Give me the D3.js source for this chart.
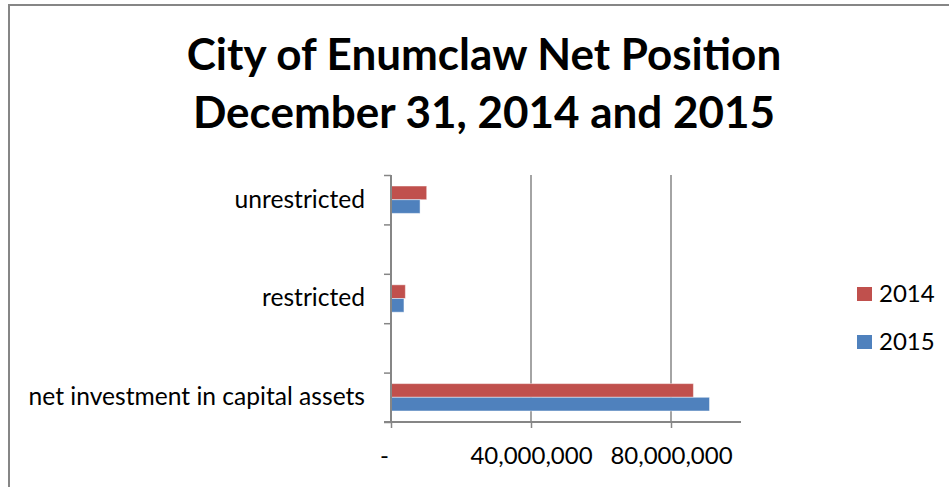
<!DOCTYPE html>
<html>
<head>
<meta charset="utf-8">
<script src="https://cdn.jsdelivr.net/npm/d3@7"></script>
<style>
  body { margin: 0; background: #fff; }
  svg { display: block; font-family: Lato, "Open Sans", sans-serif; }
</style>
</head>
<body>
<svg id="main_svg" width="949" height="487"></svg>
<script>
// data, top to bottom like the picture
const categories = ["unrestricted", "restricted", "net investment in capital assets"]
const years = ["2014", "2015"]
const values_2014 = [10200000, 4100000, 86400000]
const values_2015 = [8300000, 3700000, 91000000]
const tick_values = [0, 40000000, 80000000]
const tick_labels = ["-", "40,000,000", "80,000,000"]
const colors = ["#C0504D", "#4F81BD"]

const svg = d3.select("#main_svg")
const grey = "#868686"

// outer chart border (right and bottom are cut off)
svg.append("rect")
    .attr("x", 9).attr("y", 5)
    .attr("width", 960).attr("height", 500)
    .attr("fill", "none").attr("stroke", grey).attr("stroke-width", 2)

// title
const title = svg.append("text")
    .attr("text-anchor", "middle")
    .attr("font-weight", "bold")
    .attr("font-size", 44)
    .attr("fill", "#000")
title.append("tspan").attr("x", 484).attr("y", 70).text("City of Enumclaw Net Position")
title.append("tspan").attr("x", 484).attr("y", 128).text("December 31, 2014 and 2015")

// scales
const x = d3.scaleLinear().domain([0, 100000000]).range([391, 741])
// 5 slots, each category sits in every other slot
const y = d3.scaleLinear().domain([0, 5]).range([175, 422])
const slot = i => i * 2 + 0.5
const bar_h = (y(1) - y(0)) * 0.277

// gridlines
svg.selectAll(".grid")
    .data(tick_values.filter(d => d > 0))
    .enter().append("line")
    .attr("x1", d => x(d)).attr("x2", d => x(d))
    .attr("y1", y(0)).attr("y2", y(5))
    .attr("stroke", grey).attr("stroke-width", 1.5)

// bars
const series = [values_2014, values_2015]
series.forEach((vals, s) => {
    svg.selectAll(".bar_" + s)
        .data(vals)
        .enter().append("rect")
        .attr("class", "bar_" + s)
        .attr("x", x(0))
        .attr("y", (d, i) => y(slot(i)) - bar_h + s * bar_h)
        .attr("width", d => x(d) - x(0))
        .attr("height", bar_h)
        .attr("fill", colors[s])
        .attr("stroke", "rgba(255,255,255,0.45)")
        .attr("stroke-width", 1)
})

// x axis
const xAxis = d3.axisBottom(x)
    .tickValues(tick_values)
    .tickSize(6)
    .tickFormat((d, i) => tick_labels[i])
const gx = svg.append("g").attr("transform", "translate(0," + y(5) + ")").call(xAxis)
gx.select(".domain").attr("d", "M384,0H" + x.range()[1]).attr("stroke", grey).attr("stroke-width", 2)
gx.selectAll(".tick line").attr("stroke", grey).attr("stroke-width", 1.5)
gx.selectAll(".tick text")
    .attr("y", 42)
    .attr("dy", 0)
    .attr("dx", d => d === 0 ? -7 : 0)
    .attr("font-family", "Lato, sans-serif")
    .attr("font-size", 24)
    .attr("fill", "#000")

// y axis
const yAxis = d3.axisLeft(y).ticks(5).tickSize(7).tickFormat("")
const gy = svg.append("g").attr("transform", "translate(" + x(0) + ",0)").call(yAxis)
gy.select(".domain").attr("d", "M0," + y(0) + "V" + y(5)).attr("stroke", grey).attr("stroke-width", 2)
gy.selectAll(".tick line").attr("stroke", grey).attr("stroke-width", 1.5)

// category labels
svg.selectAll(".cat")
    .data(categories)
    .enter().append("text")
    .attr("x", 365)
    .attr("y", (d, i) => y(slot(i)))
    .attr("dy", "0.32em")
    .attr("text-anchor", "end")
    .attr("font-size", 24.6)
    .attr("fill", "#000")
    .text(d => d)

// legend
const legend = svg.selectAll(".legend")
    .data(years)
    .enter().append("g")
    .attr("transform", (d, i) => "translate(857," + (287 + i * 48) + ")")
legend.append("rect")
    .attr("width", 15).attr("height", 14)
    .attr("fill", (d, i) => colors[i])
legend.append("text")
    .attr("x", 22).attr("y", 15)
    .attr("font-size", 24)
    .attr("fill", "#000")
    .text(d => d)
</script>
</body>
</html>
